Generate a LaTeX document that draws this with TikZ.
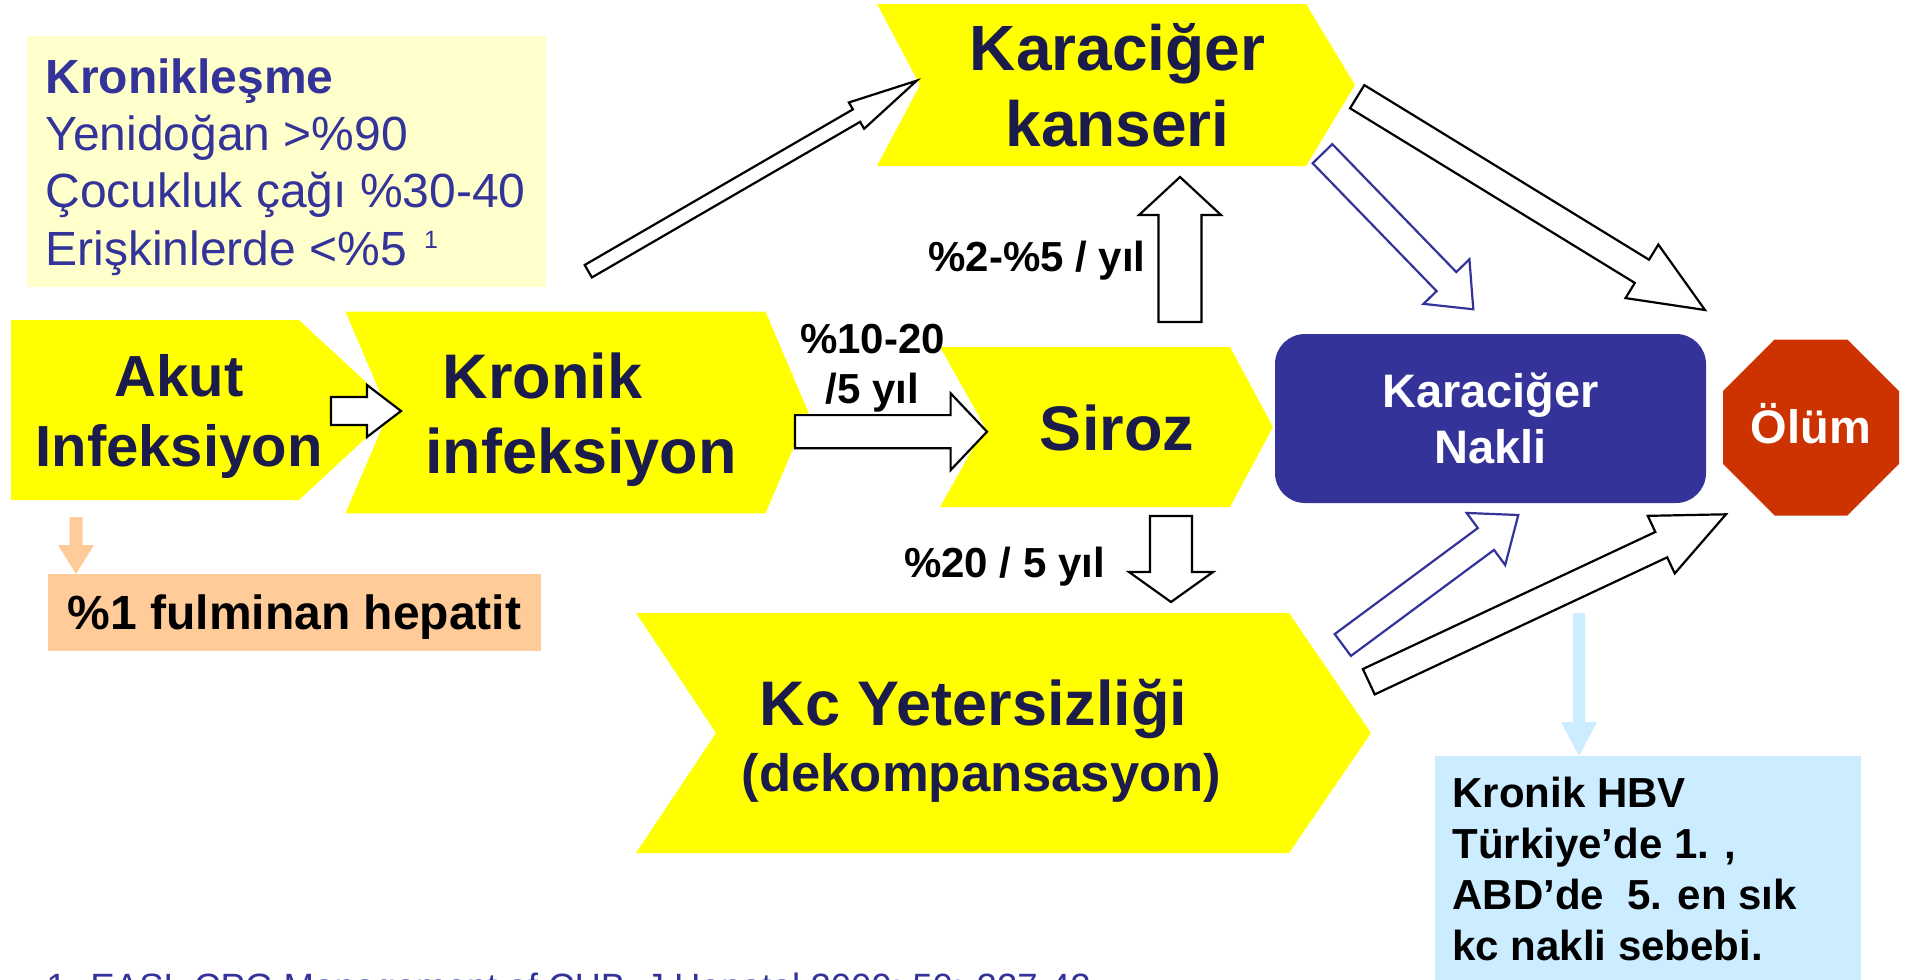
\documentclass[tikz,border=0pt]{standalone}
\usepackage{fontspec}
\setmainfont{Liberation Sans}
\usetikzlibrary{calc,shapes.geometric}

\definecolor{stageyellow}{HTML}{FFFF00}
\definecolor{stagenavy}{HTML}{1C1C4C}
\definecolor{boxblue}{HTML}{333399}
\definecolor{notecream}{HTML}{FFFFCC}
\definecolor{notepeach}{HTML}{FFCC99}
\definecolor{noteice}{HTML}{CCECFF}
\definecolor{stopred}{HTML}{CC3300}

\newcommand{\fsz}[2]{\fontsize{#1}{#2}\selectfont}
% block arrow: [style]{tail}{tip}{half shaft}{half head}{head length}
\newcommand{\blockarrow}[6][]{%
  \coordinate (bah) at ($(#3)!#6!(#2)$);
  \path[#1] ($(#2)!#4!90:(#3)$) -- ($(bah)!#4!90:(#3)$) -- ($(bah)!#5!90:(#3)$) -- (#3)
    -- ($(bah)!#5!-90:(#3)$) -- ($(bah)!#4!-90:(#3)$) -- ($(#2)!#4!-90:(#3)$) -- cycle;
}

\begin{document}
\begin{tikzpicture}[x=0.5pt, y=-0.5pt]
    % Define styles
    \tikzset{
        stage/.style={fill=stageyellow},
        stagetext/.style={
            text=stagenavy,
            align=center,
            inner sep=0pt,
            anchor=base
        },
        notebox/.style={
            rectangle,
            inner sep=0pt
        },
        ratelabel/.style={
            font=\bfseries\fsz{21pt}{25pt},
            align=center,
            inner sep=0pt,
            anchor=base
        },
        outlinearrow/.style={
            draw=black,
            fill=white,
            line width=1.1pt
        },
        bluearrow/.style={
            outlinearrow,
            draw=boxblue
        }
    }

    \useasboundingbox (0,0) rectangle (1907,980);
    \fill[white] (0,0) rectangle (1907,980);

    % Note boxes
    \node[notebox, fill=notecream, minimum width=259.5pt, minimum height=125.5pt] (kronbox) at (286.5,161.5) {};
    \node[notebox, fill=notepeach, minimum width=246.5pt, minimum height=38.5pt, text depth=0pt,
          font=\bfseries\fsz{24pt}{28pt}] (fulminan) at (294.5,612.5) {\%1 fulminan hepatit};
    \node[notebox, fill=noteice, anchor=north west, minimum width=213pt, minimum height=125pt] (hbvbox) at (1435,756) {};

    % Stages
    \fill[stage] (11,320) -- (299,320) -- (396,410) -- (299,500) -- (11,500) -- cycle;
    \fill[stage] (345.5,311.7) -- (765.5,311.7) -- (808.5,412.5) -- (765.5,513.3) -- (345.5,513.3) -- (388.5,412.5) -- cycle;
    \fill[stage] (940,347) -- (1230,347) -- (1273,427) -- (1230,507) -- (940,507) -- (985,427) -- cycle;
    \fill[stage] (877,4) -- (1306,4) -- (1355,85) -- (1306,166) -- (877,166) -- (920,85) -- cycle;
    \fill[stage] (636,613) -- (1289,613) -- (1371,733) -- (1289,853) -- (636,853) -- (716,733) -- cycle;

    % End points
    \node[fill=boxblue, rounded corners=15pt, minimum width=215.5pt, minimum height=84.5pt,
          text=white, align=center, inner sep=0pt, font=\bfseries\fsz{23.5pt}{28pt}] (nakil) at (1490.5,418.5) {Karaciğer\\Nakli};
    \node[regular polygon, regular polygon sides=8, fill=stopred, minimum size=95.25pt, inner sep=0pt,
          text=white, text height=15.5pt, text depth=0pt, font=\bfseries\fsz{23.5pt}{28pt}] (olum) at (1811,427.5) {Ölüm};

    % Arrow end points
    \coordinate (akutR) at (331,411);      \coordinate (kronikL) at (401,411);
    \coordinate (kronikR) at (795,431.7);  \coordinate (sirozL) at (987,431.7);
    \coordinate (sirozT) at (1180,322);    \coordinate (kanserB) at (1180,177);
    \coordinate (sirozB) at (1171,516);    \coordinate (kcT) at (1171,602);
    \coordinate (kronboxR) at (588.3,271.2); \coordinate (kanserL) at (916.7,80.7);
    \coordinate (kanserR) at (1357.2,96.7); \coordinate (olumT) at (1705,310);
    \coordinate (kanserBR) at (1322.5,153.7); \coordinate (nakilT) at (1473.3,309.3);
    \coordinate (kcR) at (1342.8,645);     \coordinate (nakilB) at (1518.3,515);
    \coordinate (kcRB) at (1368.8,681.7);  \coordinate (olumB) at (1726,514.3);
    \coordinate (akutB) at (76,517);       \coordinate (fulminanT) at (76,574);
    \coordinate (nakilBB) at (1579,613);   \coordinate (hbvT) at (1579,756);

    % Progression arrows
    \blockarrow[outlinearrow]{akutR}{kronikL}{7pt}{13pt}{17pt}
    \blockarrow[outlinearrow]{kronikR}{sirozL}{8.3pt}{19.2pt}{18.2pt}
    \blockarrow[outlinearrow]{sirozT}{kanserB}{10.75pt}{20.5pt}{19pt}
    \blockarrow[outlinearrow]{sirozB}{kcT}{10.5pt}{21pt}{15pt}
    \blockarrow[outlinearrow]{kronboxR}{kanserL}{3.6pt}{7.6pt}{34.8pt}
    \blockarrow[outlinearrow]{kanserR}{olumT}{6.8pt}{15.7pt}{37pt}
    \blockarrow[bluearrow]{kanserBR}{nakilT}{6.85pt}{16pt}{19.3pt}
    \blockarrow[bluearrow]{kcR}{nakilB}{6.8pt}{16.2pt}{20.15pt}
    \blockarrow[outlinearrow]{kcRB}{olumB}{7pt}{15.9pt}{35.75pt}
    \blockarrow[fill=notepeach]{akutB}{fulminanT}{3.25pt}{9pt}{14.5pt}
    \blockarrow[fill=noteice]{nakilBB}{hbvT}{3pt}{9pt}{17pt}

    % Stage labels (anchored at the last line)
    \node[stagetext, font=\bfseries\fsz{29pt}{35pt}] (akut) at (179,466.7) {Akut\\Infeksiyon};
    \node[stagetext, align=left, anchor=base west, font=\bfseries\fsz{31.5pt}{37.5pt}] (kronik) at (424.7,473.3) {\hspace*{8.85pt}Kronik\\infeksiyon};
    \node[stagetext, font=\bfseries\fsz{31.5pt}{38pt}] (siroz) at (1117,450) {Siroz};
    \node[stagetext, font=\bfseries\fsz{32pt}{38pt}] (kanser) at (1117.5,146.7) {Karaciğer\\kanseri};
    \node[stagetext, font=\bfseries\fsz{31.5pt}{33pt}] (kc) at (973.5,791) {Kc Yetersizliği\\\hspace*{8pt}{\fsz{26.3pt}{33pt}(dekompansasyon)}};

    % Rates
    \node[ratelabel] (rate1) at (872.4,403.3) {\%10-20\\/5 yıl};
    \node[ratelabel] (rate2) at (1037,271.7) {\%2-\%5 / yıl};
    \node[ratelabel] (rate3) at (1004.5,577) {\%20 / 5 yıl};

    % Notes
    \node[anchor=base west, align=left, inner sep=0pt, text=boxblue, font=\fsz{24pt}{28.6pt}] (kronlist) at (45,265)
        {\textbf{Kronikleşme}\\Yenidoğan >\%90\\Çocukluk çağı \%30-40\\Erişkinlerde <\%5 \hspace{2pt}\raisebox{8.5pt}{\fsz{12.5pt}{12.5pt}1}};
    \node[anchor=base west, align=left, inner sep=0pt, font=\bfseries\fsz{21pt}{25.5pt}] (hbv) at (1452,960)
        {Kronik HBV\\Türkiye’de 1. ,\\ABD’de~ 5. en sık\\kc nakli sebebi.};
    \node[anchor=base west, inner sep=0pt, text=boxblue, font=\fsz{18.3pt}{22pt}] (ref) at (46,999)
        {1. EASL CPG Management of CHB. J Hepatol 2009; 50: 227-42};
\end{tikzpicture}
\end{document}
